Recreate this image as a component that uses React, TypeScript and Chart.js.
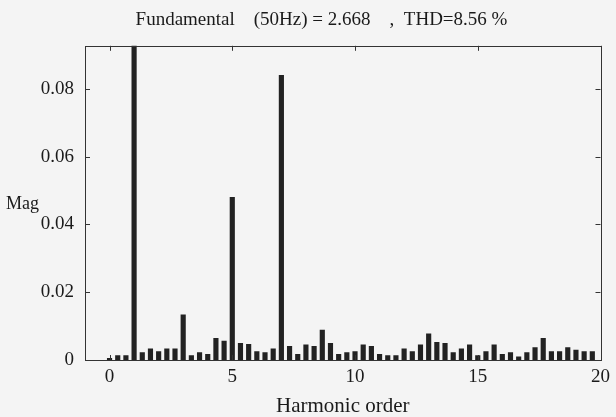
import React, { useEffect, useRef } from "react";
import { Chart, registerables } from "chart.js";

Chart.register(...registerables);

const chartTitle = "Fundamental    (50Hz) = 2.668    ,  THD=8.56 %";
const xAxisTitle = "Harmonic order";
const yAxisTitle = "Mag";

// FFT bin spacing is 50/3 Hz, i.e. three bins per harmonic order
const binsPerHarmonic = 3;

// magnitude of each spectral bin (bin 3 is the fundamental, clipped by the axis)
const magnitudes = [
  0.0005, 0.0013, 0.0013, 2.668, 0.0022, 0.0033, 0.0025, 0.0033, 0.0033, 0.0133,
  0.0013, 0.0022, 0.0017, 0.0064, 0.0056, 0.048, 0.0049, 0.0046, 0.0025, 0.0022,
  0.0033, 0.084, 0.004, 0.0017, 0.0045, 0.004, 0.0088, 0.0049, 0.0017, 0.0022,
  0.0025, 0.0045, 0.004, 0.0017, 0.0013, 0.0013, 0.0033, 0.0025, 0.0045, 0.0077,
  0.0052, 0.0049, 0.0022, 0.0033, 0.0045, 0.0013, 0.0025, 0.0045, 0.0017, 0.0022,
  0.0009, 0.0022, 0.0037, 0.0064, 0.0025, 0.0025, 0.0037, 0.0029, 0.0025, 0.0025,
];

const xTicks = [0, 5, 10, 15, 20];
const xTickLabels = ["0", "5", "10", "15", "20"];
const yTicks = [0, 0.02, 0.04, 0.06, 0.08];
const yTickLabels = ["0", "0.02", "0.04", "0.06", "0.08"];
const xMin = -1;
const xMax = 20;
const yMin = 0;
const yMax = 0.0927;

const SERIF = '"Liberation Serif", "Times New Roman", serif';
const BG = "#f4f4f4";
const INK = "#1a1a1a";

const framePlugin = {
  id: "matlabFrame",
  beforeDraw(chart: any) {
    const { ctx, width, height } = chart;
    ctx.save();
    ctx.fillStyle = BG;
    ctx.fillRect(0, 0, width, height);
    ctx.restore();
  },
  afterDatasetsDraw(chart: any) {
    const { ctx, chartArea } = chart;
    const { left, right, top, bottom } = chartArea;
    const xs = chart.scales.x;
    const ys = chart.scales.y;
    ctx.save();
    ctx.strokeStyle = "#333";
    ctx.lineWidth = 1;
    ctx.strokeRect(Math.round(left) + 0.5, Math.round(top) + 0.5, Math.round(right - left), Math.round(bottom - top));
    const tl = 5;
    ctx.beginPath();
    xTicks.forEach((v) => {
      const px = Math.round(xs.getPixelForValue(v)) + 0.5;
      ctx.moveTo(px, bottom);
      ctx.lineTo(px, bottom - tl);
      ctx.moveTo(px, top);
      ctx.lineTo(px, top + tl);
    });
    yTicks.forEach((v) => {
      const py = Math.round(ys.getPixelForValue(v)) + 0.5;
      ctx.moveTo(left, py);
      ctx.lineTo(left + tl, py);
      ctx.moveTo(right, py);
      ctx.lineTo(right - tl, py);
    });
    ctx.stroke();
    ctx.fillStyle = INK;
    ctx.font = `18px ${SERIF}`;
    ctx.textAlign = "left";
    ctx.textBaseline = "alphabetic";
    ctx.fillText(yAxisTitle, 6, 209);
    ctx.restore();
  },
};

export default function App() {
  const ref = useRef<HTMLCanvasElement | null>(null);

  useEffect(() => {
    document.body.style.background = BG;
    const canvas = ref.current;
    if (!canvas) return;
    const chart = new Chart(canvas, {
      type: "bar",
      data: {
        datasets: [
          {
            data: magnitudes.map((m, i) => ({ x: i / binsPerHarmonic, y: m })),
            backgroundColor: "#222",
            borderWidth: 0,
            barThickness: 4.5,
          } as any,
        ],
      },
      options: {
        animation: false,
        responsive: false,
        devicePixelRatio: 1,
        layout: { padding: { left: 38, right: 11, top: 0, bottom: 0 } },
        plugins: {
          legend: { display: false },
          tooltip: { enabled: false },
          title: {
            display: true,
            text: chartTitle,
            color: INK,
            font: { family: SERIF, size: 19, weight: "normal" },
            padding: { top: 9, bottom: 14 },
          },
        },
        scales: {
          x: {
            type: "linear",
            min: xMin,
            max: xMax,
            offset: false,
            position: "bottom",
            grid: { display: false, drawTicks: false, offset: false },
            border: { display: false },
            ticks: {
              padding: 6,
              color: INK,
              font: { family: SERIF, size: 19 },
              maxRotation: 0,
              callback: (v: any) => xTickLabels[xTicks.indexOf(Number(v))] ?? "",
            },
            afterBuildTicks: (s: any) => {
              s.ticks = xTicks.map((v) => ({ value: v }));
            },
            afterFit: (s: any) => {
              s.height = 57;
            },
            title: {
              display: true,
              text: xAxisTitle,
              color: INK,
              font: { family: SERIF, size: 21 },
              padding: { top: 0, bottom: -2 },
            },
          },
          y: {
            type: "linear",
            min: yMin,
            max: yMax,
            grid: { display: false, drawTicks: false },
            border: { display: false },
            ticks: {
              padding: 11,
              color: INK,
              font: { family: SERIF, size: 19 },
              callback: (v: any) => yTickLabels[yTicks.indexOf(Number(v))] ?? "",
            },
            afterBuildTicks: (s: any) => {
              s.ticks = yTicks.map((v) => ({ value: v }));
            },
            afterFit: (s: any) => {
              s.width = 47;
            },
          },
        },
      } as any,
      plugins: [framePlugin],
    });
    return () => chart.destroy();
  }, []);

  return (
    <div style={{ position: "fixed", left: 0, top: 0, width: 616, height: 417, background: BG }}>
      <canvas ref={ref} width={616} height={417} style={{ display: "block" }} />
    </div>
  );
}
